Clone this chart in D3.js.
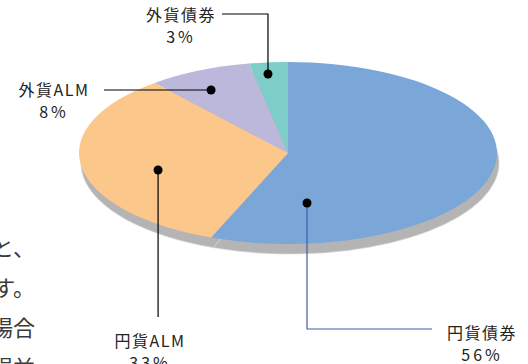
<!DOCTYPE html>
<html>
<head>
<meta charset="utf-8">
<script src="https://cdn.jsdelivr.net/npm/d3@7"></script>
<style>
  body { margin: 0; background: #fff; }
  svg { display: block; font-family: "Noto Sans CJK JP", "Noto Sans", sans-serif; }
</style>
</head>
<body>
<div id="wrapper"></div>
<script>
// data
var categories = ["円貨債券", "円貨ALM", "外貨ALM", "外貨債券"];
var values = [56, 33, 8, 3];
var percentLabels = ["56%", "33%", "8%", "3%"];
var colors = ["#7ba7d8", "#fcc78b", "#bcb8db", "#7fcdc8"];

// cut-off body text on the left edge of the page
var sideText = ["見ると、", "なります。", "その場合", "期間損益"];

var width = 528, height = 364;
var cx = 288, cy = 153, rx = 209, ry = 91;

var svg = d3.select("#wrapper").append("svg")
    .attr("width", width)
    .attr("height", height);

// left paragraph fragment
svg.append("g").selectAll("text")
    .data(sideText)
  .enter().append("text")
    .attr("x", 35)
    .attr("y", function(d, i) { return 256 + i * 40; })
    .attr("text-anchor", "end")
    .attr("font-size", "22px")
    .attr("fill", "#3a3a3a")
    .text(function(d) { return d; });

var pie = d3.pie().sort(null).value(function(d) { return d; });
var arcs = pie(values);
var arc = d3.arc().innerRadius(0).outerRadius(rx);

// side / shadow of the disc
svg.append("g")
    .attr("transform", "translate(" + (cx + 2) + "," + (cy + 10) + ") scale(1," + (ry / rx) + ")")
  .selectAll("path")
    .data(arcs)
  .enter().append("path")
    .attr("d", arc)
    .attr("fill", "#b4b4b4")
    .attr("stroke", "#d4d4d4")
    .attr("stroke-width", 0.7)
    .attr("vector-effect", "non-scaling-stroke");

// top of the disc
svg.append("g")
    .attr("transform", "translate(" + cx + "," + cy + ") scale(1," + (ry / rx) + ")")
  .selectAll("path")
    .data(arcs)
  .enter().append("path")
    .attr("d", arc)
    .attr("fill", function(d, i) { return colors[i]; });

// label layout: where the dot sits in each slice (degrees clockwise from top, radius fraction)
var dotAngle = [170.6, 253.3, 332, 353.7];
var dotRadius = [0.557, 0.649, 0.784, 0.873];
var lineColor = ["#3b5ea6", "#000", "#000", "#000"];
// elbow path end points and label anchors
var layout = [
  {bend: "v", endY: 329, endX: 432, lx: 482, ly: 339},
  {bend: "v", endY: 317, endX: null, lx: 150, ly: 347},
  {bend: "h", endY: null, endX: 104, lx: 54, ly: 96},
  {bend: "v", endY: 14, endX: 222, lx: 181, ly: 21}
];

categories.forEach(function(name, i) {
  var p = d3.pointRadial(dotAngle[i] * Math.PI / 180, dotRadius[i] * rx);
  var dx = cx + p[0], dy = cy + p[1] * ry / rx;
  var L = layout[i];
  var pts = [[dx, dy]];
  if (L.bend === "v") {
    pts.push([dx, L.endY]);
    if (L.endX !== null) pts.push([L.endX, L.endY]);
  } else {
    pts.push([L.endX, dy]);
  }
  svg.append("path")
      .attr("d", d3.line()(pts))
      .attr("fill", "none")
      .attr("stroke", lineColor[i])
      .attr("stroke-width", 1.2);
  svg.append("circle")
      .attr("cx", dx)
      .attr("cy", dy)
      .attr("r", 4.5)
      .attr("fill", "#000");

  svg.append("text")
      .attr("x", L.lx)
      .attr("y", L.ly)
      .attr("text-anchor", "middle")
      .attr("font-size", "16px")
      .attr("letter-spacing", "1.5px")
      .attr("fill", "#222")
      .text(name);
  svg.append("text")
      .attr("x", L.lx)
      .attr("y", L.ly + 22)
      .attr("text-anchor", "middle")
      .attr("font-size", "16px")
      .attr("letter-spacing", "3px")
      .attr("fill", "#222")
      .text(percentLabels[i]);
});
</script>
</body>
</html>
